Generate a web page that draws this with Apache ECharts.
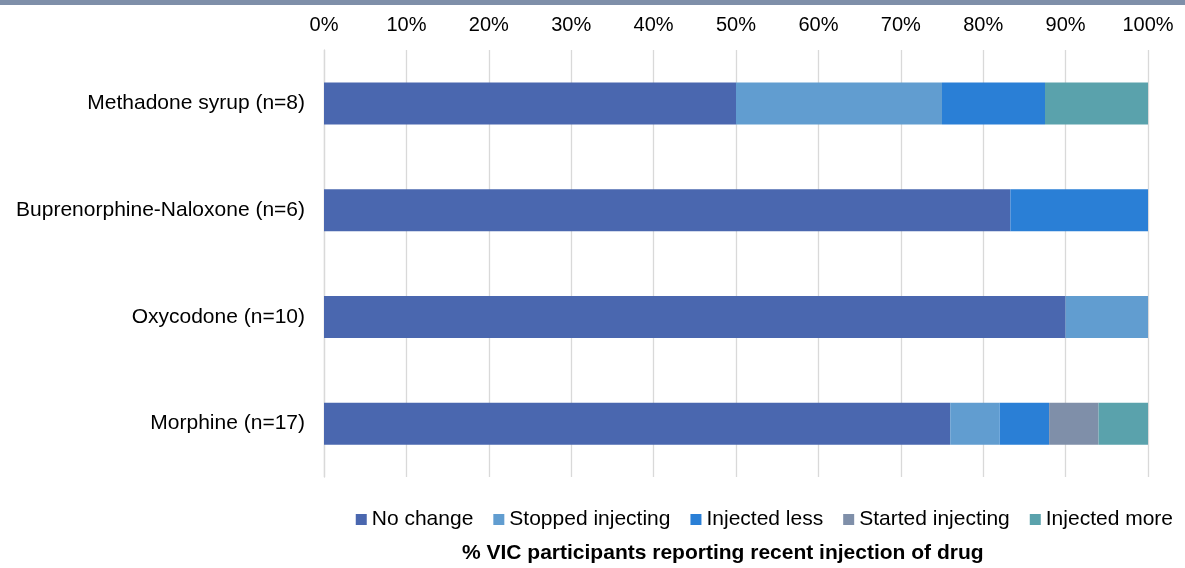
<!DOCTYPE html>
<html><head><meta charset="utf-8">
<script src="https://cdn.jsdelivr.net/npm/echarts@6/dist/echarts.min.js"></script>
<style>html,body{margin:0;padding:0;background:#fff}#c{width:1185px;height:568px}</style>
</head><body><div id="c"></div>
<script>
const categories = ["Methadone syrup (n=8)", "Buprenorphine-Naloxone (n=6)", "Oxycodone (n=10)", "Morphine (n=17)"];
const seriesNames = ["No change", "Stopped injecting", "Injected less", "Started injecting", "Injected more"];
const noChange = [50, 83.3, 90, 76];
const stoppedInjecting = [25, 0, 10, 6];
const injectedLess = [12.5, 16.7, 0, 6];
const startedInjecting = [0, 0, 0, 6];
const injectedMore = [12.5, 0, 0, 6];
const tickLabels = ["0%", "10%", "20%", "30%", "40%", "50%", "60%", "70%", "80%", "90%", "100%"];
const colors = ["#4A67AF", "#619DD0", "#2A7FD6", "#7F8FA9", "#5AA2AC"];
const values = [noChange, stoppedInjecting, injectedLess, startedInjecting, injectedMore];

const chart = echarts.init(document.getElementById('c'));
const font = 'Liberation Sans, Arial, sans-serif';
chart.setOption({
  animation: false,
  textStyle: {fontFamily: font},
  grid: {left: 324, right: 37, top: 50, bottom: 91, containLabel: false},
  xAxis: {
    type: 'value', position: 'top', min: 0, max: 100, interval: 10,
    axisLine: {show: false}, axisTick: {show: false},
    splitLine: {lineStyle: {color: '#d9d9d9', width: 1.3}},
    axisLabel: {color: '#000', fontSize: 20, fontFamily: font, margin: 15,
      formatter: v => tickLabels[Math.round(v / 10)]}
  },
  yAxis: {
    type: 'category', data: categories, inverse: true,
    axisLine: {show: true, lineStyle: {color: '#d9d9d9', width: 1.3}},
    axisTick: {show: false},
    axisLabel: {color: '#000', fontSize: 21, fontFamily: font, margin: 19}
  },
  legend: {
    right: 7, top: 504, itemWidth: 11, itemHeight: 11, itemGap: 20,
    icon: 'rect',
    textStyle: {fontSize: 21, color: '#000', fontFamily: font},
    data: seriesNames
  },
  graphic: [
    {type: 'rect', left: 0, top: 0, shape: {width: 1185, height: 5}, style: {fill: '#7F8FA9'}},
    {type: 'text', left: 462, top: 543,
      style: {text: '% VIC participants reporting recent injection of drug', fill: '#000', font: 'bold 21px ' + font}}
  ],
  series: seriesNames.map((n, i) => ({
    name: n, type: 'bar', stack: 'total', barWidth: 42,
    itemStyle: {color: colors[i]},
    data: values[i]
  }))
});
</script></body></html>
